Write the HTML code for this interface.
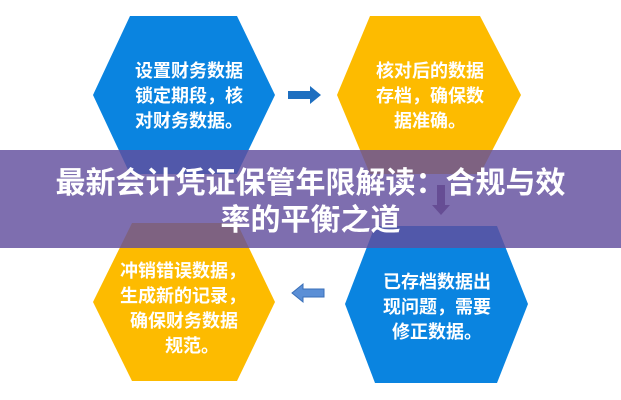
<!DOCTYPE html>
<html><head><meta charset="utf-8"><style>
body{margin:0;width:621px;height:400px;background:#fff;overflow:hidden;position:relative;font-family:"Liberation Sans","Noto Sans CJK SC",sans-serif}
svg{position:absolute;left:0;top:0}
.t{position:absolute;color:#fff;font-weight:bold;font-size:18px;line-height:25px;text-align:center}
.banner{position:absolute;left:0;top:150px;width:621px;height:98px;background:rgba(98,78,158,0.82)}
.bt{position:absolute;left:-20px;top:165px;width:661px;text-align:center;color:#fff;font-weight:bold;font-size:30px;line-height:37px}
</style></head><body>
<svg width="621" height="400">
<polygon points="130,16 237,16 275,95 237,174 130,174 93,95" fill="#0a84e0"/>
<polygon points="370,16 480,16 521,95 480,174 370,174 337,95" fill="#fdbb00"/>
<polygon points="132,223 237,223 275,302 237,381 132,381 93,302" fill="#fdbb00"/>
<polygon points="375,226 497,226 528,304 497,383 375,383 345,304" fill="#0a84e0"/>
<polygon points="288,91 310,91 310,86 321,95 310,104 310,99 288,99" fill="#1e6fc0"/>
<polygon points="324,289 303,289 303,284 292,293 303,302 303,297 324,297" fill="#5b8fd6" stroke="#3a6fb8" stroke-width="1"/>
<polygon points="437,185 445,185 445,205 450,205 441,215 432,205 437,205" fill="#7a4b6a"/>
</svg>
<div class="t" style="left:109px;top:59px;width:160px">设置财务数据<br>锁定期段，核<br>对财务数据。</div>
<div class="t" style="left:350px;top:59px;width:160px">核对后的数据<br>存档，确保数<br>据准确。</div>
<div class="t" style="left:120px;top:259px;width:170px;text-align:left">冲销错误数据，<br>生成新的记录，<br>&nbsp;&nbsp;确保财务数据<br>&nbsp;&nbsp;&nbsp;&nbsp;&nbsp;&nbsp;&nbsp;&nbsp;&nbsp;规范。</div>
<div class="t" style="left:357px;top:270px;width:160px">已存档数据出<br>现问题，需要<br>修正数据。</div>
<div class="banner"></div>
<div class="bt">最新会计凭证保管年限解读：合规与效<br>率的平衡之道</div>
</body></html>
